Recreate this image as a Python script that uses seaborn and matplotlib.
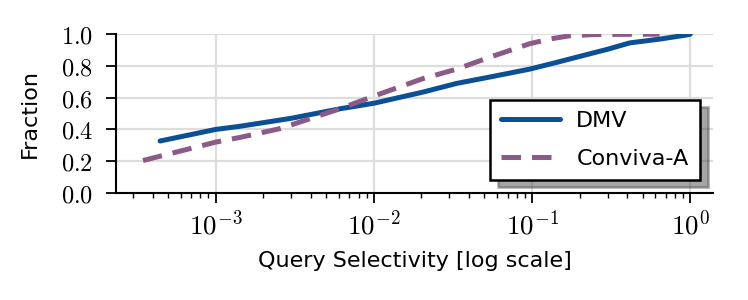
import matplotlib
matplotlib.use('Agg')

import matplotlib.pyplot as plt
import numpy as np
import pandas as pd
import seaborn as sns

# CDF of query selectivity
dmv_sel = [4.45e-4, 1.0e-3, 1.43e-3, 3.0e-3, 6.1e-3, 0.01, 0.0204, 0.0334,
           0.054, 0.0966, 0.14, 0.2, 0.3, 0.414, 0.65, 0.95, 1.0]
dmv_frac = [0.327, 0.40, 0.42, 0.47, 0.53, 0.565, 0.635, 0.69,
            0.73, 0.78, 0.82, 0.86, 0.905, 0.945, 0.97, 0.995, 1.0]

conviva_sel = [3.47e-4, 1.0e-3, 1.43e-3, 2.55e-3, 6.1e-3, 0.01, 0.0204,
               0.0334, 0.054, 0.0966, 0.13, 0.173, 0.25, 0.64]
conviva_frac = [0.204, 0.32, 0.35, 0.405, 0.53, 0.61, 0.72,
                0.78, 0.855, 0.94, 0.97, 0.99, 0.998, 1.0]

series_names = ['DMV', 'Conviva-A']
series_colors = ['#0b4f96', '#8c5a87']

sns.set_style('whitegrid')
plt.rcParams['font.family'] = ['DejaVu Sans']
plt.rcParams['mathtext.fontset'] = 'cm'
plt.rcParams['text.color'] = 'black'
plt.rcParams['axes.labelcolor'] = 'black'
plt.rcParams['xtick.color'] = 'black'
plt.rcParams['ytick.color'] = 'black'

fig = plt.figure(figsize=(7.48, 3.0), dpi=100)
ax = fig.add_axes([0.155, 0.357, 0.798, 0.529])

sns.lineplot(x=dmv_sel, y=dmv_frac, ax=ax, color=series_colors[0],
             linewidth=3.6, label=series_names[0], sort=False)
sns.lineplot(x=conviva_sel, y=conviva_frac, ax=ax, color=series_colors[1],
             linewidth=3.6, linestyle=(0, (3.9, 2.2)), label=series_names[1],
             sort=False)

ax.set_xscale('log')
ax.set_xlim(2.34e-4, 1.39)
ax.set_ylim(0, 1)
ax.set_yticks(np.arange(0, 1.01, 0.2))
ax.set_yticklabels(['$%.1f$' % v for v in np.arange(0, 1.01, 0.2)])
ax.set_xticks([1e-3, 1e-2, 1e-1, 1])
ax.set_xticklabels([r'$10^{-3}$', r'$10^{-2}$', r'$10^{-1}$', r'$10^{0}$'])

ax.grid(True, which='major', color='#dddddd', linewidth=1.6)
ax.grid(False, which='minor')
for side in ['top', 'right']:
    ax.spines[side].set_visible(False)
for side in ['left', 'bottom']:
    ax.spines[side].set_color('black')
    ax.spines[side].set_linewidth(1.5)

ax.tick_params(axis='both', which='major', direction='out', length=7.5,
               width=1.3, color='black', bottom=True, left=True)
ax.tick_params(axis='y', which='major', labelsize=17.5, pad=9)
ax.tick_params(axis='x', which='major', labelsize=19.5, pad=5)
ax.tick_params(axis='x', which='minor', direction='out', length=3.8,
               width=1.0, color='black', bottom=True)

ax.set_xlabel('Query Selectivity [log scale]', fontsize=16, labelpad=8)
ax.set_ylabel('Fraction', fontsize=16, labelpad=15)

leg = ax.legend(loc='lower right', fontsize=16, handlelength=2.65,
                handletextpad=0.75, labelspacing=0.8,
                fancybox=False, framealpha=1, edgecolor='black',
                shadow={'ox': 6, 'oy': -5},
                borderpad=0.5, borderaxespad=0,
                bbox_to_anchor=(0.978, 0.082))
leg.get_frame().set_linewidth(1.8)

fig.savefig('out.png', dpi=100)
plt.close()
